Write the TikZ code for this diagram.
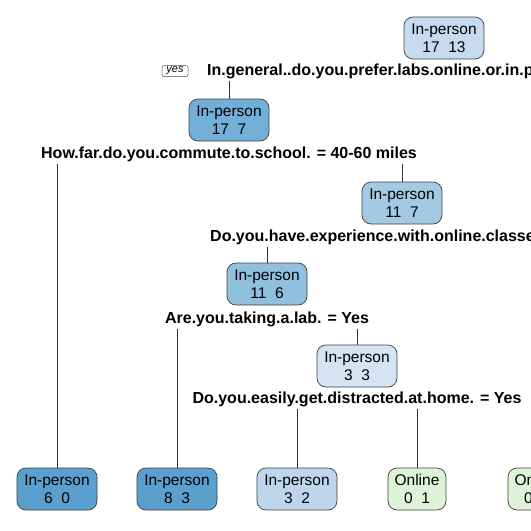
\documentclass[tikz,border=0pt]{standalone}
\usepackage{fontspec}
\setmainfont{Liberation Sans}
\definecolor{fillroot}{HTML}{C6DBEF}
\definecolor{fillA}{HTML}{73AFD7}
\definecolor{fillB}{HTML}{A3C9E3}
\definecolor{fillC}{HTML}{8FC0DD}
\definecolor{fillD}{HTML}{D4E4F3}
\definecolor{fillE}{HTML}{BDD6EE}
\definecolor{fillleaf}{HTML}{5A9FCE}
\definecolor{fillgreen}{HTML}{DFF3D8}
\tikzset{
  box/.style={draw=black!75, line width=0.7pt, rounded corners=9pt, minimum height=42pt,
      inner sep=1pt, align=center, font=\fontsize{15.5}{18}\selectfont},
  inperson/.style={box, minimum width=80pt},
  online/.style={box, minimum width=58pt},
  splitlabel/.style={inner sep=2pt, font=\fontsize{16}{18}\selectfont\bfseries},
  yesbox/.style={draw=black!70, line width=0.5pt, rounded corners=2pt, minimum width=26pt,
      minimum height=11pt, inner sep=1pt, font=\fontsize{11}{12}\selectfont\itshape},
  branch/.style={line width=0.6pt, black!80},
}
\begin{document}
\begin{tikzpicture}[x=1pt, y=-1pt]
  \useasboundingbox (0,0) rectangle (531,531);
  \clip (0,0) rectangle (531,531);
  % root
  \node[inperson, fill=fillroot] (n1) at (444,38) {In-person\\17\ \ 13};
  \node[splitlabel, anchor=west] (s1) at (205,71) {In.general..do.you.prefer.labs.online.or.in.p};
  \node[yesbox] (yes) at (175,71) {yes};
  % inner nodes
  \node[inperson, fill=fillA] (n2) at (229,120) {In-person\\17\ \ 7};
  \node[splitlabel] (s2) at (229,154) {How.far.do.you.commute.to.school. = 40-60 miles};
  \node[inperson, fill=fillB] (n3) at (402,203) {In-person\\11\ \ 7};
  \node[splitlabel, anchor=west] (s3) at (208,237) {Do.you.have.experience.with.online.classe};
  \node[inperson, fill=fillC] (n6) at (267,284) {In-person\\11\ \ 6};
  \node[splitlabel] (s6) at (267,319) {Are.you.taking.a.lab. = Yes};
  \node[inperson, fill=fillD] (n13) at (357,366) {In-person\\3\ \ 3};
  \node[splitlabel] (s13) at (357,399) {Do.you.easily.get.distracted.at.home. = Yes};
  % leaves
  \node[inperson, fill=fillleaf] (l1) at (57,489) {In-person\\6\ \ 0};
  \node[inperson, fill=fillleaf] (l2) at (177,489) {In-person\\8\ \ 3};
  \node[inperson, fill=fillE] (l3) at (297,489) {In-person\\3\ \ 2};
  \node[online, fill=fillgreen] (l4) at (417,489) {Online\\0\ \ 1};
  \node[online, fill=fillgreen] (l5) at (537,489) {Online\\0\ \ 1};
  % branches
  \draw[branch] (s1.south -| n2.north) -- (n2.north);
  \draw[branch] (s2.south -| l1.north) -- (l1.north);
  \draw[branch] (s2.south -| n3.north) -- (n3.north);
  \draw[branch] (s3.south -| n6.north) -- (n6.north);
  \draw[branch] (s3.south -| l5.north) -- (l5.north);
  \draw[branch] (s6.south -| l2.north) -- (l2.north);
  \draw[branch] (s6.south -| n13.north) -- (n13.north);
  \draw[branch] (s13.south -| l3.north) -- (l3.north);
  \draw[branch] (s13.south -| l4.north) -- (l4.north);
\end{tikzpicture}
\end{document}
